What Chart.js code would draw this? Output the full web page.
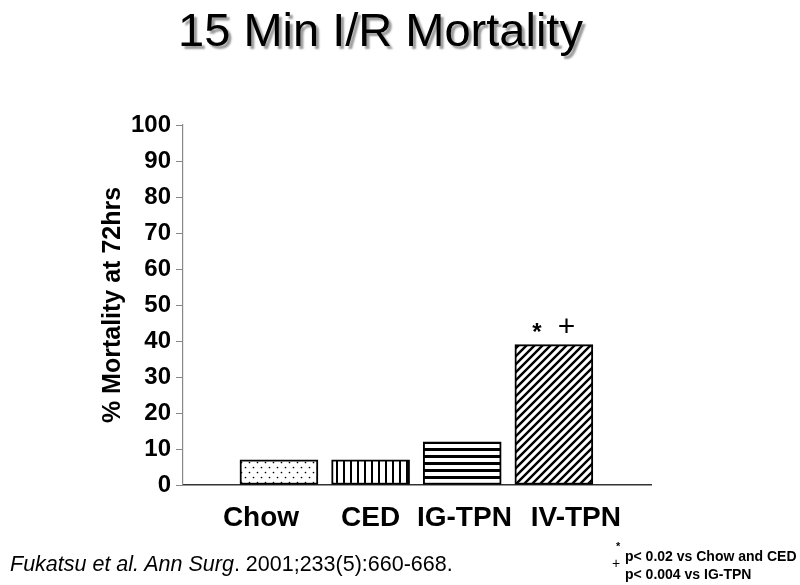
<!DOCTYPE html>
<html><head><meta charset="utf-8">
<script src="https://cdn.jsdelivr.net/npm/chart.js@4.4.1/dist/chart.umd.min.js"></script>
<style>
html,body{margin:0;padding:0;background:#fff;}
#wrap{position:relative;width:800px;height:585px;overflow:hidden;background:#fff;}
canvas{position:absolute;left:0;top:0;}
.t{position:absolute;font-family:"Liberation Sans",Arial,sans-serif;white-space:nowrap;color:#000;}
</style></head><body>
<div id="wrap">
<canvas id="c" width="800" height="585"></canvas>
<div class="t" style="left:0;width:761px;text-align:center;top:2px;font-size:47px;line-height:56px;text-shadow:3px 3px 2px #9a9a9a;">15 Min I/R Mortality</div>
<div class="t" style="left:10px;top:552px;font-size:21.5px;line-height:24px;"><i>Fukatsu et al. Ann Surg</i>. 2001;233(5):660-668.</div>
<div class="t" style="left:616px;top:540px;font-size:11px;line-height:12px;font-weight:bold;">*</div>
<div class="t" style="left:625px;top:548px;font-size:14px;line-height:16px;font-weight:bold;">p&lt; 0.02 vs Chow and CED</div>
<div class="t" style="left:612px;top:555px;font-size:14px;line-height:16px;">+</div>
<div class="t" style="left:625px;top:566px;font-size:14px;line-height:16px;font-weight:bold;">p&lt; 0.004 vs IG-TPN</div>
</div>
<script>
// ---- data ----
const categories = ['Chow', 'CED', 'IG-TPN', 'IV-TPN'];
const mortality = [7, 7, 12, 39];
const yTickValues = [0, 10, 20, 30, 40, 50, 60, 70, 80, 90, 100];
const sigMarks = [[], [], [], ['*', '+']];
const yTitle = '% Mortality at 72hrs';
// label placement nudges (in category widths), as typeset in the original slide
const labelNudge = [-0.196, 0, 0.024, 0.24];

// ---- patterns ----
function mk(w, h, draw) {
  const c = document.createElement('canvas');
  c.width = w; c.height = h;
  const g = c.getContext('2d');
  g.fillStyle = '#fff'; g.fillRect(0, 0, w, h);
  g.fillStyle = '#000'; g.strokeStyle = '#000';
  draw(g, w, h);
  return document.getElementById('c').getContext('2d').createPattern(c, 'repeat');
}
const dots = mk(8, 10, g => {
  g.beginPath(); g.arc(1.5, 2.5, 0.85, 0, Math.PI * 2); g.fill();
  g.beginPath(); g.arc(5.5, 7.5, 0.85, 0, Math.PI * 2); g.fill();
});
const vlines = mk(7, 4, g => { g.fillRect(0, 0, 2, 4); });
const hlines = mk(4, 7, g => { g.fillRect(0, 0, 4, 3); });
const diag = mk(8, 8, g => {
  g.lineWidth = 2.4; g.lineCap = 'square';
  g.beginPath();
  g.moveTo(-1, 1); g.lineTo(1, -1);
  g.moveTo(0, 8); g.lineTo(8, 0);
  g.moveTo(7, 9); g.lineTo(9, 7);
  g.stroke();
});
const fills = [dots, vlines, hlines, diag];

const sigPlugin = {
  id: 'sig',
  afterDatasetsDraw(chart) {
    const ctx = chart.ctx;
    const meta = chart.getDatasetMeta(0);
    sigMarks.forEach((marks, i) => {
      if (!marks.length) return;
      const bar = meta.data[i];
      ctx.save();
      ctx.fillStyle = '#000';
      ctx.textAlign = 'center';
      ctx.textBaseline = 'alphabetic';
      ctx.font = 'bold 24px "Liberation Sans", Arial, sans-serif';
      ctx.fillText(marks[0], bar.x - 17, bar.y - 5);
      ctx.font = '30px "Liberation Sans", Arial, sans-serif';
      ctx.fillText(marks[1], bar.x + 12.7, bar.y - 8.5);
      ctx.restore();
    });
  }
};

const xMin = -0.047, xMax = 5.06;
const font = '"Liberation Sans", Arial, sans-serif';

new Chart(document.getElementById('c'), {
  type: 'bar',
  data: {
    datasets: [{
      data: categories.map((c, i) => ({ x: i + 1, y: mortality[i] })),
      backgroundColor: fills,
      borderColor: '#000',
      borderWidth: 2,
      borderSkipped: false,
      barThickness: 78
    }]
  },
  options: {
    responsive: false,
    animation: false,
    devicePixelRatio: 1,
    layout: { padding: { left: 95, right: 149, top: 125, bottom: 0 } },
    plugins: { legend: { display: false }, tooltip: { enabled: false }, title: { display: false } },
    scales: {
      x: {
        type: 'linear',
        offset: false,
        min: xMin,
        max: xMax,
        afterBuildTicks: s => { s.ticks = categories.map((c, i) => ({ value: i + 1 })); },
        afterFit: s => { s.height = 0; },
        grid: { display: false, drawTicks: false, offset: false },
        border: { display: true, color: '#333', width: 1.5 },
        ticks: { display: false }
      },
      xLabels: {
        type: 'linear',
        position: 'bottom',
        offset: false,
        min: xMin,
        max: xMax,
        afterBuildTicks: s => { s.ticks = categories.map((c, i) => ({ value: i + 1 + labelNudge[i] })); },
        afterFit: s => { s.height = 100; },
        grid: { display: false, drawTicks: false, offset: false },
        border: { display: false },
        ticks: {
          autoSkip: false,
          maxRotation: 0,
          padding: 16,
          color: '#000',
          font: { family: font, size: 28, weight: 'bold' },
          callback: v => categories[Math.round(v) - 1] || ''
        }
      },
      y: {
        min: 0,
        max: 100,
        afterBuildTicks: s => { s.ticks = yTickValues.map(v => ({ value: v })); },
        afterFit: s => { s.width = 88; },
        grid: { display: true, drawOnChartArea: false, drawTicks: true, tickLength: 7, color: '#888' },
        border: { display: true, color: '#888', width: 1.2 },
        ticks: {
          padding: 5,
          color: '#000',
          font: { family: font, size: 24, weight: 'bold' }
        },
        title: {
          display: true,
          text: yTitle,
          color: '#000',
          padding: { top: 3, bottom: 0 },
          font: { family: font, size: 25, weight: 'bold' }
        }
      }
    }
  },
  plugins: [sigPlugin]
});
</script>
</body></html>
